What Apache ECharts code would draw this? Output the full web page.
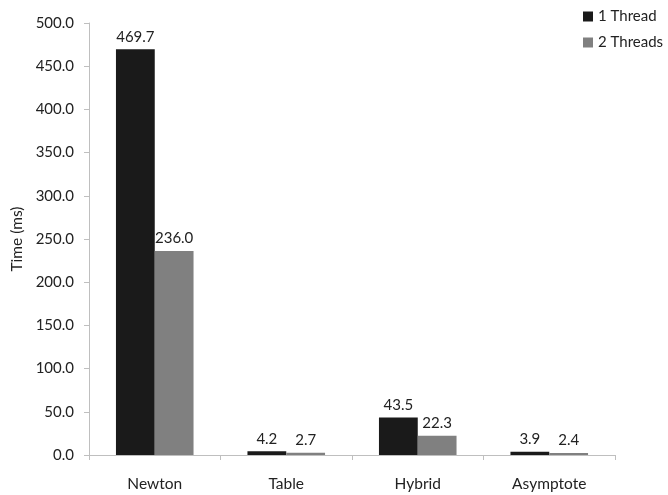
<!DOCTYPE html>
<html>
<head>
<meta charset="utf-8">
<script src="https://cdn.jsdelivr.net/npm/echarts@6/dist/echarts.min.js"></script>
<style>
  html, body { margin: 0; padding: 0; background: #fff; }
  #chart { width: 668px; height: 495px; }
</style>
</head>
<body>
<div id="chart"></div>
<script>
// Execution time per method, single vs. dual thread
const categories = ['Newton', 'Table', 'Hybrid', 'Asymptote'];
const oneThread = [469.7, 4.2, 43.5, 3.9];
const twoThreads = [236.0, 2.7, 22.3, 2.4];
const seriesNames = ['1 Thread', '2 Threads'];

const FONT = 'Lato, "Noto Sans", sans-serif';
const axisGray = '#bfbfbf';

const chart = echarts.init(document.getElementById('chart'), null, { renderer: 'canvas' });

const labelCfg = {
  show: true,
  position: 'top',
  distance: 5,
  color: '#222',
  fontFamily: FONT,
  fontSize: 15,
  formatter: p => p.value.toFixed(1)
};

chart.setOption({
  animation: false,
  backgroundColor: '#fff',
  textStyle: { fontFamily: FONT },
  grid: { left: 89, right: 53, top: 23, bottom: 40, containLabel: false, outerBoundsMode: 'none' },
  legend: {
    orient: 'vertical',
    left: 578,
    top: 4,
    itemWidth: 10,
    itemHeight: 10,
    itemGap: 11,
    icon: 'rect',
    textStyle: { fontFamily: FONT, fontSize: 15, color: '#222' },
    data: seriesNames
  },
  xAxis: {
    type: 'category',
    data: categories,
    axisLine: { show: true, lineStyle: { color: axisGray, width: 1 } },
    axisTick: { show: true, alignWithLabel: false, length: 5, lineStyle: { color: axisGray } },
    axisLabel: { fontFamily: FONT, fontSize: 15.5, color: '#222', margin: 21 }
  },
  yAxis: {
    type: 'value',
    min: 0,
    max: 500,
    interval: 50,
    name: 'Time (ms)',
    nameLocation: 'middle',
    nameGap: 64,
    nameRotate: 90,
    nameTextStyle: { fontFamily: FONT, fontSize: 15.5, color: '#222' },
    axisLine: { show: true, lineStyle: { color: axisGray, width: 1 } },
    axisTick: { show: true, length: 5, lineStyle: { color: axisGray } },
    splitLine: { show: false },
    axisLabel: {
      fontFamily: FONT, fontSize: 15, color: '#222', margin: 15,
      formatter: v => v.toFixed(1)
    }
  },
  series: [
    {
      name: seriesNames[0],
      type: 'bar',
      data: oneThread,
      barWidth: '29.5%',
      barGap: '0%',
      itemStyle: { color: '#1a1a1a' },
      label: labelCfg
    },
    {
      name: seriesNames[1],
      type: 'bar',
      data: twoThreads,
      barWidth: '29.5%',
      barGap: '0%',
      itemStyle: { color: '#808080' },
      label: labelCfg
    }
  ]
});
</script>
</body>
</html>
